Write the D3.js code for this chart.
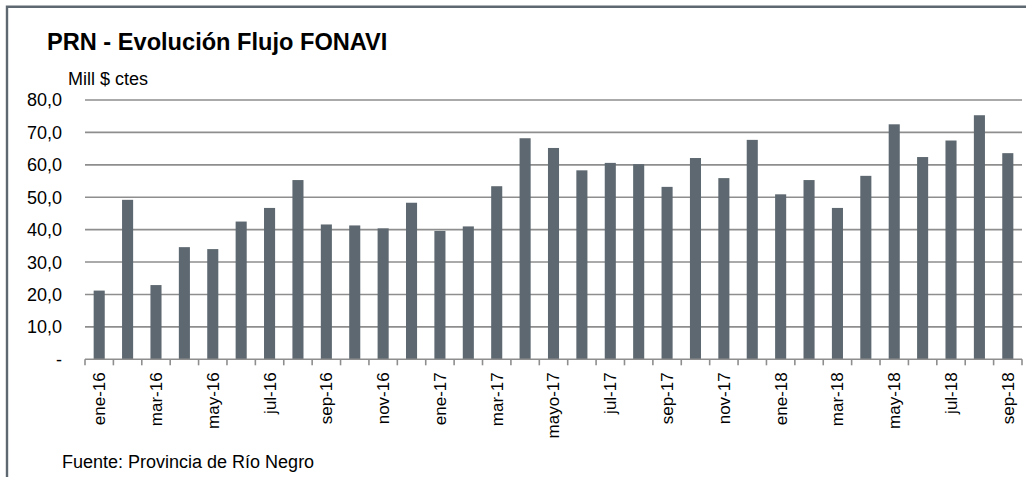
<!DOCTYPE html>
<html>
<head>
<meta charset="utf-8">
<script src="https://cdn.jsdelivr.net/npm/d3@7"></script>
<style>
  html, body { margin: 0; padding: 0; background: #fff; }
  svg { display: block; font-family: "Liberation Sans", Arial, sans-serif; }
</style>
</head>
<body>
<div id="chart"></div>
<script>
// meses ene-16 .. sep-18
var months = ["ene-16", "feb-16", "mar-16", "abr-16", "may-16", "jun-16", "jul-16", "ago-16", "sep-16", "oct-16", "nov-16", "dic-16",
    "ene-17", "feb-17", "mar-17", "abr-17", "mayo-17", "jun-17", "jul-17", "ago-17", "sep-17", "oct-17", "nov-17", "dic-17",
    "ene-18", "feb-18", "mar-18", "abr-18", "may-18", "jun-18", "jul-18", "ago-18", "sep-18"];
var flujo = [21.2, 49.2, 22.9, 34.6, 34.0, 42.5, 46.7, 55.3, 41.6, 41.3, 40.4, 48.3,
    39.6, 41.0, 53.4, 68.2, 65.2, 58.3, 60.6, 60.2, 53.2, 62.1, 55.9, 67.7,
    50.9, 55.3, 46.7, 56.6, 72.5, 62.4, 67.5, 75.3, 63.6];
var yTicks = [0, 10, 20, 30, 40, 50, 60, 70, 80];

var width = 1027,
    height = 477;
var plotLeft = 85, plotRight = 1022, plotTop = 100, plotBottom = 359.3;

var svg = d3.select("#chart").append("svg")
    .attr("width", width)
    .attr("height", height);

// marco exterior
svg.append("path")
    .attr("d", "M7,480 L7,6.8 L1026,6.8")
    .attr("fill", "none")
    .attr("stroke", "#5d6870")
    .attr("stroke-width", 2.4);

var x = d3.scaleBand()
    .domain(months)
    .range([plotLeft, plotRight])
    .paddingInner(0.61)
    .paddingOuter(0.305);

var y = d3.scaleLinear()
    .domain([0, 80])
    .range([plotBottom, plotTop]);

var fmt = function (v) {
    return v === 0 ? "-" : d3.format(".1f")(v).replace(".", ",");
};

// grilla
svg.append("g")
    .selectAll("line")
    .data(yTicks.filter(function (d) { return d > 0; }))
    .enter().append("line")
    .attr("x1", plotLeft)
    .attr("x2", plotRight)
    .attr("y1", function (d) { return y(d); })
    .attr("y2", function (d) { return y(d); })
    .attr("stroke", "#8e8e8e")
    .attr("stroke-width", 1.6);

// etiquetas eje y
svg.append("g")
    .selectAll("text")
    .data(yTicks)
    .enter().append("text")
    .attr("x", 62)
    .attr("y", function (d) { return y(d); })
    .attr("dy", "0.36em")
    .attr("text-anchor", "end")
    .attr("font-size", 18)
    .attr("fill", "#000")
    .text(fmt);

// barras
svg.append("g")
    .selectAll("rect")
    .data(flujo)
    .enter().append("rect")
    .attr("x", function (d, i) { return x(months[i]); })
    .attr("y", function (d) { return y(d); })
    .attr("width", x.bandwidth())
    .attr("height", function (d) { return y(0) - y(d); })
    .attr("fill", "#5d6870");

// eje x
var step = x.step();
var xAxis = svg.append("g");
xAxis.append("line")
    .attr("x1", plotLeft)
    .attr("x2", plotRight)
    .attr("y1", plotBottom)
    .attr("y2", plotBottom)
    .attr("stroke", "#8e8e8e")
    .attr("stroke-width", 1.6);
xAxis.selectAll(".tick")
    .data(months.concat([null]))
    .enter().append("line")
    .attr("class", "tick")
    .attr("x1", function (d, i) { return plotLeft + i * step; })
    .attr("x2", function (d, i) { return plotLeft + i * step; })
    .attr("y1", plotBottom)
    .attr("y2", plotBottom + 6)
    .attr("stroke", "#8e8e8e")
    .attr("stroke-width", 1.6);

xAxis.selectAll("text")
    .data(months.filter(function (d, i) { return i % 2 === 0; }))
    .enter().append("text")
    .attr("transform", function (d) {
        return "translate(" + (x(d) + x.bandwidth() / 2) + "," + (plotBottom + 13) + ") rotate(-90)";
    })
    .attr("dy", "0.35em")
    .attr("text-anchor", "end")
    .attr("font-size", 17)
    .attr("fill", "#000")
    .text(function (d) { return d; });

// textos
svg.append("text")
    .attr("x", 47)
    .attr("y", 50)
    .attr("font-size", 23.6)
    .attr("font-weight", "bold")
    .attr("fill", "#000")
    .text("PRN - Evolución Flujo FONAVI");

svg.append("text")
    .attr("x", 68)
    .attr("y", 85)
    .attr("font-size", 18)
    .attr("fill", "#000")
    .text("Mill $ ctes");

svg.append("text")
    .attr("x", 62)
    .attr("y", 468)
    .attr("font-size", 18)
    .attr("fill", "#000")
    .text("Fuente: Provincia de Río Negro");
</script>
</body>
</html>
